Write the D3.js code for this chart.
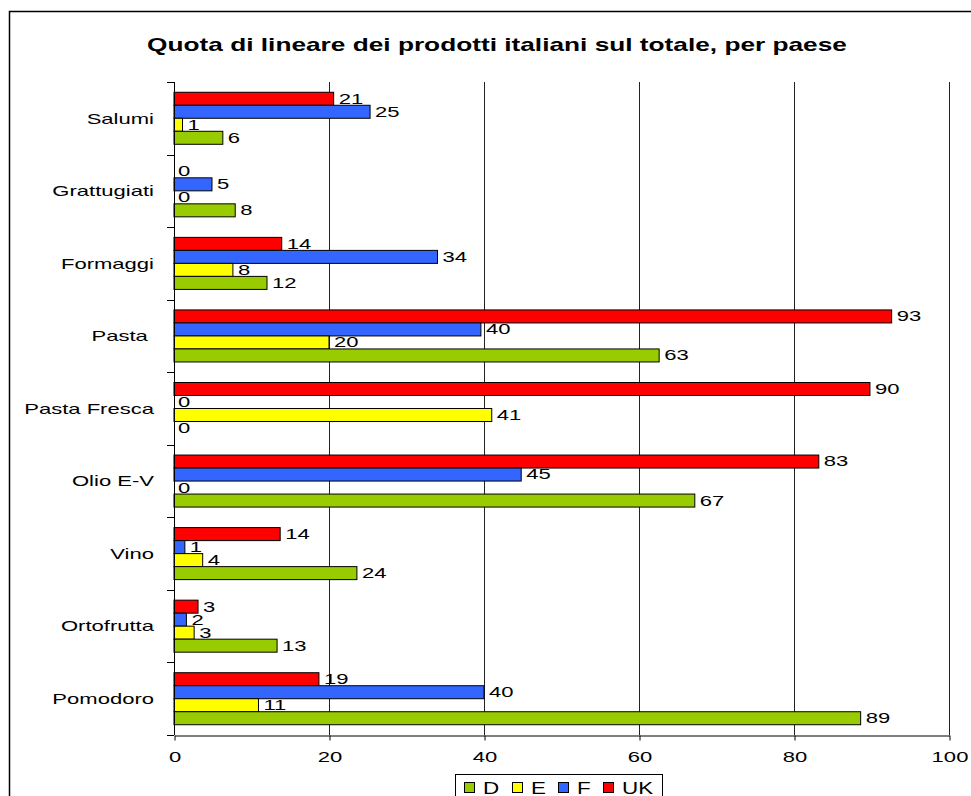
<!DOCTYPE html>
<html>
<head>
<meta charset="utf-8">
<script src="https://cdn.jsdelivr.net/npm/d3@7"></script>
<style>
  body { margin: 0; background: #fff; }
  svg text { font-family: "Liberation Sans", Arial, sans-serif; }
</style>
</head>
<body>
<script>
// categories, top to bottom
var categories = ['Salumi', 'Grattugiati', 'Formaggi', 'Pasta ', 'Pasta Fresca', 'Olio E-V', 'Vino', 'Ortofrutta', 'Pomodoro']
// series as drawn inside each group (top to bottom)
var seriesOrder = ['UK', 'F', 'E', 'D']
var legendOrder = ['D', 'E', 'F', 'UK']
var colors = { D: '#99cc00', E: '#ffff00', F: '#3366ff', UK: '#ff0000' }

var valuesUK = [20.6, 0, 13.9, 92.6, 89.8, 83.2, 13.7, 3.1, 18.7]
var valuesF  = [25.3, 4.9, 34.0, 39.6, 0, 44.8, 1.4, 1.6, 40.0]
var valuesE  = [1.1, 0, 7.6, 20.0, 41.0, 0, 3.7, 2.6, 10.9]
var valuesD  = [6.3, 7.9, 12.0, 62.6, 0, 67.2, 23.6, 13.3, 88.6]
var xTicks = [0, 20, 40, 60, 80, 100]

var seriesValues = { UK: valuesUK, F: valuesF, E: valuesE, D: valuesD }

// the original text is drawn wide, so stretch it horizontally
var SX = 1.47
function stretch(sel, sx) {
	sel.each(function() {
		var t = d3.select(this)
		var x0 = +t.attr('x') || 0
		t.attr('transform', `translate(${x0},0) scale(${sx},1)`).attr('x', 0)
	})
}

var W = 971, H = 796
var svg = d3.select('body').append('svg')
	.attr('width', W)
	.attr('height', H)

// outer frame (runs off the right and bottom edges)
svg.append('rect')
	.attr('x', 9.5).attr('y', 11.5)
	.attr('width', 1000).attr('height', 850)
	.attr('fill', 'none').attr('stroke', '#000').attr('stroke-width', 1.5)

svg.append('text')
	.attr('x', 497).attr('y', 51)
	.attr('text-anchor', 'middle')
	.style('font-size', '17.5px').style('font-weight', 'bold')
	.text('Quota di lineare dei prodotti italiani sul totale, per paese')
	.call(stretch, 1.5)

var plotTop = 82, plotBottom = 735
var x = d3.scaleLinear().domain([0, 100]).range([174, 949])
var y0 = d3.scaleBand().domain(categories).range([plotTop, plotBottom])
	.paddingInner(0.283).paddingOuter(0.1415)
var y1 = d3.scaleBand().domain(seriesOrder).range([0, y0.bandwidth()])

// gridlines
svg.append('g').selectAll('line')
	.data(xTicks.filter(d => d > 0))
	.enter().append('line')
	.attr('x1', d => Math.round(x(d)) + 0.5).attr('x2', d => Math.round(x(d)) + 0.5)
	.attr('y1', plotTop).attr('y2', plotBottom)
	.attr('stroke', '#222').attr('stroke-width', 1)

// bars
var rows = []
categories.forEach((c, i) => {
	seriesOrder.forEach(s => rows.push({ cat: c, s: s, v: seriesValues[s][i] }))
})

var bars = svg.append('g')
bars.selectAll('rect')
	.data(rows.filter(d => d.v > 0))
	.enter().append('rect')
	.attr('x', x(0))
	.attr('y', d => y0(d.cat) + y1(d.s))
	.attr('width', d => x(d.v) - x(0))
	.attr('height', y1.bandwidth())
	.attr('fill', d => colors[d.s])
	.attr('stroke', '#000').attr('stroke-width', 1)

bars.selectAll('text')
	.data(rows)
	.enter().append('text')
	.attr('x', d => d.v > 0 ? x(d.v) + 5 : x(0) + 4)
	.attr('y', d => y0(d.cat) + y1(d.s) + y1.bandwidth() / 2)
	.attr('dy', '0.33em')
	.style('font-size', '15px')
	.text(d => d3.format('.0f')(d.v))
	.call(stretch, SX)

// y axis line + boundary ticks
svg.append('line')
	.attr('x1', 174.5).attr('x2', 174.5)
	.attr('y1', plotTop).attr('y2', plotBottom)
	.attr('stroke', '#000')
var bounds = d3.range(categories.length + 1).map(i => plotTop + i * y0.step())
svg.append('g').selectAll('line')
	.data(bounds)
	.enter().append('line')
	.attr('x1', 167).attr('x2', 174)
	.attr('y1', d => Math.round(d) + 0.5).attr('y2', d => Math.round(d) + 0.5)
	.attr('stroke', '#000')

svg.append('g').selectAll('text')
	.data(categories)
	.enter().append('text')
	.attr('x', 154)
	.attr('y', d => y0(d) + y0.bandwidth() / 2)
	.attr('dy', '0.35em')
	.attr('text-anchor', 'end')
	.style('font-size', '15px')
	.style('white-space', 'pre')
	.text(d => d)
	.call(stretch, SX)

// x axis
var xAxis = svg.append('g')
	.attr('transform', `translate(0.5,${plotBottom + 0.5})`)
	.call(d3.axisBottom(x).tickValues(xTicks).tickSize(5).tickPadding(11).tickSizeOuter(0))
xAxis.select('.domain').attr('stroke', '#000')
xAxis.selectAll('.tick line').attr('stroke', '#000')
xAxis.selectAll('text')
	.style('font-size', '15px')
	.style('font-family', '"Liberation Sans", Arial, sans-serif')
	.attr('fill', '#000')
	.call(stretch, SX)

// legend
var legend = svg.append('g')
legend.append('rect')
	.attr('x', 455.5).attr('y', 774.5)
	.attr('width', 207).attr('height', 40)
	.attr('fill', '#fff').attr('stroke', '#000')
var legendX = { D: 464, E: 512, F: 558, UK: 603 }
var items = legend.selectAll('g.item')
	.data(legendOrder)
	.enter().append('g').attr('class', 'item')
items.append('rect')
	.attr('x', d => legendX[d] + 0.5).attr('y', 782.5)
	.attr('width', 10).attr('height', 10)
	.attr('fill', d => colors[d]).attr('stroke', '#000')
items.append('text')
	.attr('x', d => legendX[d] + 19)
	.attr('y', 788)
	.attr('dy', '0.35em')
	.style('font-size', '16px')
	.text(d => d)
	.call(stretch, 1.4)
</script>
</body>
</html>
